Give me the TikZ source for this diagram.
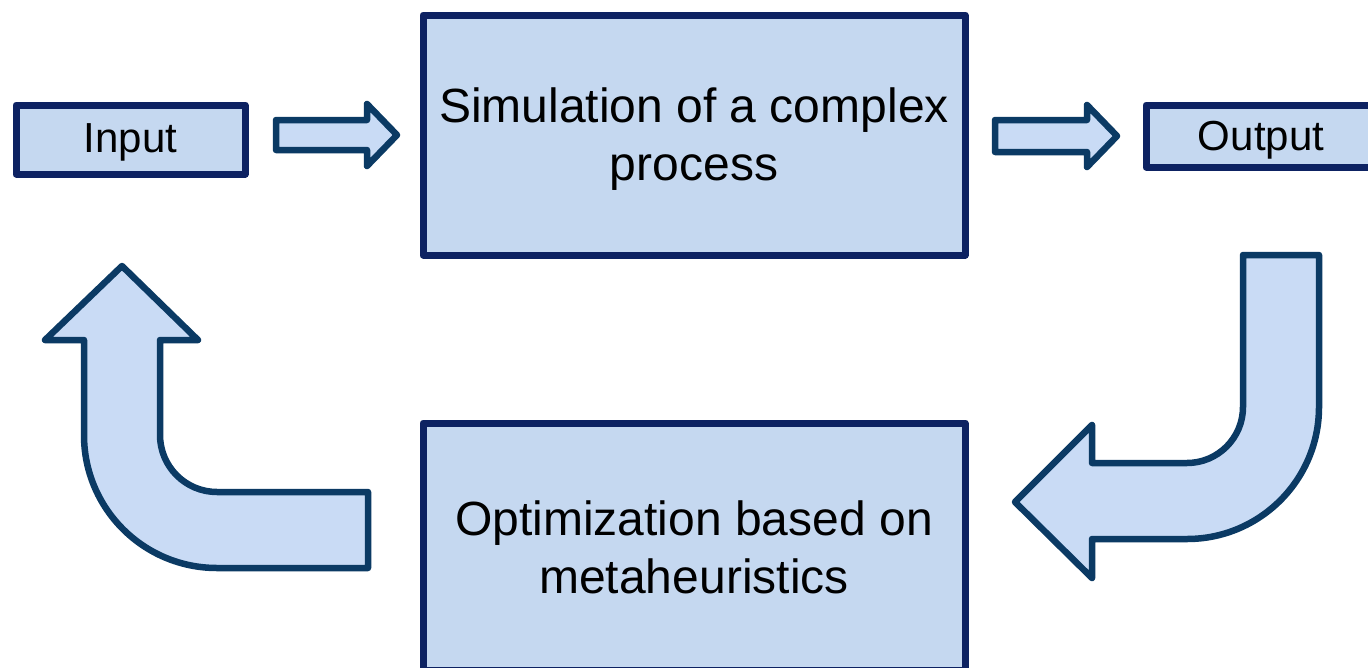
\documentclass[tikz,border=0pt]{standalone}
\usepackage{fontspec}
\setmainfont{Liberation Sans}
\definecolor{boxfill}{HTML}{C5D8F0}
\definecolor{boxline}{HTML}{0D2262}
\definecolor{arrfill}{HTML}{C9DBF5}
\definecolor{arrline}{HTML}{0B3A64}
\begin{document}
\begin{tikzpicture}[x=1pt,y=-1pt,
  box/.style={draw=boxline, fill=boxfill, line width=7pt, line join=round, inner sep=0pt},
  caption/.style={align=center, text=black, inner sep=0pt},
  bigtext/.style={font=\fontsize{48}{58}\selectfont},
  smalltext/.style={font=\fontsize{42}{50}\selectfont},
  blockarrow/.style={draw=arrline, fill=arrfill, line width=6.5pt, line join=round}]
\clip (0,0) rectangle (1368,667);

% process blocks
\node[box, minimum width=229pt, minimum height=69pt] (input) at (130.5,139.5) {};
\node[box, minimum width=542pt, minimum height=240pt] (sim) at (694,135) {};
\node[box, minimum width=230pt, minimum height=62pt] (output) at (1261,136) {};
\node[box, minimum width=542pt, minimum height=247pt] (opt) at (694,546.5) {};

% block captions
\node[caption, smalltext, yshift=-3pt] (inputtext) at (input) {Input};
\node[caption, bigtext, yshift=-4.5pt] (simtext) at (sim) {Simulation of a complex\\process};
\node[caption, smalltext, yshift=-4.5pt] (outputtext) at (output) {Output};
\node[caption, bigtext, yshift=-1pt] (opttext) at (opt) {Optimization based on\\metaheuristics};

% straight block arrows
\draw[blockarrow] (276,120) -- (367,120) -- (367,104) -- (397,135) -- (367,166)
  -- (367,150) -- (276,150) -- cycle;
\draw[blockarrow] (995,120) -- (1087,120) -- (1087,105) -- (1117,136) -- (1087,167)
  -- (1087,152) -- (995,152) -- cycle;

% bent arrow: optimization back to input
\draw[blockarrow] (122,266) -- (198,340) -- (160,340) -- (160,435)
  .. controls (160,466.5) and (185.5,492) .. (217,492) -- (368,492) -- (368,568)
  -- (217,568) .. controls (143.5,568) and (84,508.5) .. (84,435) -- (84,340)
  -- (45,340) -- cycle;

% bent arrow: output down to optimization
\draw[blockarrow] (1243,255) -- (1319,255) -- (1319,407)
  .. controls (1319,479.9) and (1259.9,539) .. (1187,539) -- (1092,539)
  -- (1092,578) -- (1015,502) -- (1092,425) -- (1092,463) -- (1187,463)
  .. controls (1217.9,463) and (1243,437.9) .. (1243,407) -- cycle;
\end{tikzpicture}
\end{document}
